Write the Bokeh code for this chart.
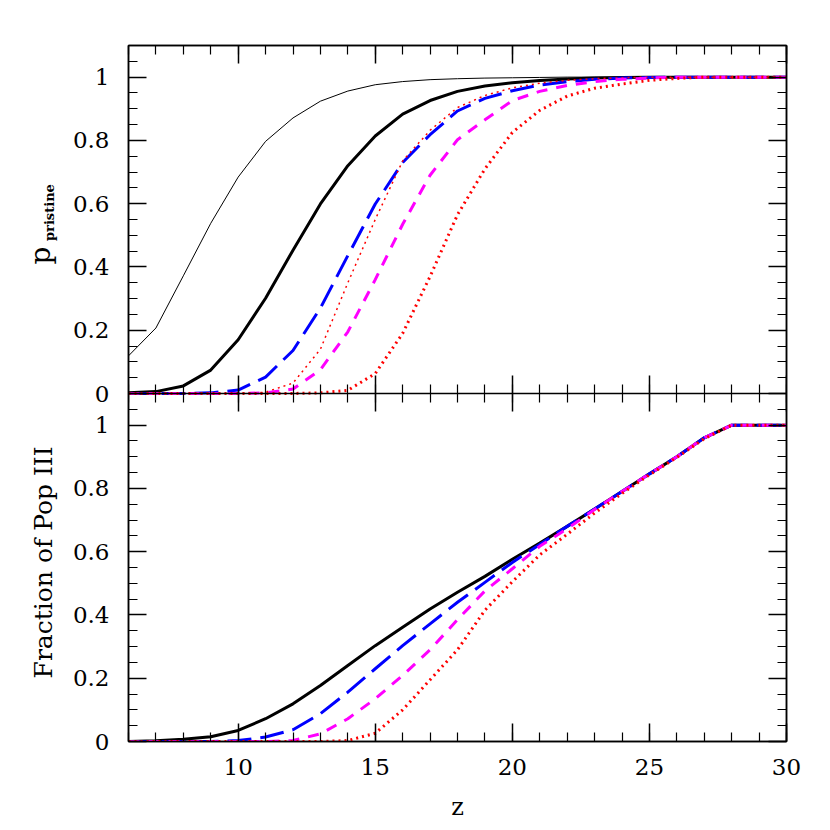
import math
from bokeh.plotting import figure
from bokeh.models import Range1d, LinearAxis, FixedTicker, CustomJSTickFormatter
from bokeh.core.properties import value
from bokeh.layouts import column, row
from bokeh.embed import file_html
from bokeh.resources import INLINE

# ---------------- data ----------------
z = list(range(6, 31))

# top panel: p_pristine
top_thin_black = [0.119, 0.207, 0.372, 0.538, 0.684, 0.797, 0.871, 0.924, 0.956, 0.976,
                  0.986, 0.992, 0.995, 0.997, 0.998, 0.999, 1.0, 1.0, 1.0, 1.0,
                  1.0, 1.0, 1.0, 1.0, 1.0]
top_thick_black = [0.002, 0.006, 0.024, 0.074, 0.170, 0.301, 0.453, 0.599, 0.720, 0.814,
                   0.883, 0.926, 0.955, 0.972, 0.982, 0.989, 0.994, 0.997, 0.999, 1.0,
                   1.0, 1.0, 1.0, 1.0, 1.0]
top_blue = [0.0, 0.0, 0.0, 0.002, 0.011, 0.052, 0.136, 0.270, 0.436, 0.599,
            0.730, 0.818, 0.893, 0.933, 0.957, 0.975, 0.986, 0.993, 0.997, 0.999,
            1.0, 1.0, 1.0, 1.0, 1.0]
top_red_thin = [0.0, 0.0, 0.0, 0.0, 0.0, 0.004, 0.033, 0.140, 0.350, 0.550,
                0.735, 0.832, 0.904, 0.942, 0.966, 0.981, 0.990, 0.995, 0.998, 1.0,
                1.0, 1.0, 1.0, 1.0, 1.0]
top_magenta = [0.0, 0.0, 0.0, 0.0, 0.0, 0.002, 0.014, 0.075, 0.195, 0.360,
               0.535, 0.690, 0.802, 0.865, 0.926, 0.955, 0.974, 0.986, 0.993, 0.997,
               1.0, 1.0, 1.0, 1.0, 1.0]
top_red_thick = [0.0, 0.0, 0.0, 0.0, 0.0, 0.0, 0.0, 0.002, 0.010, 0.063,
                 0.190, 0.370, 0.565, 0.710, 0.825, 0.895, 0.940, 0.965, 0.978, 0.990,
                 0.996, 1.0, 1.0, 1.0, 1.0]

# bottom panel: fraction of Pop III
bot_black = [0.0, 0.002, 0.007, 0.015, 0.035, 0.072, 0.119, 0.177, 0.240, 0.303,
             0.361, 0.419, 0.472, 0.522, 0.576, 0.627, 0.680, 0.735, 0.790, 0.846,
             0.900, 0.960, 1.0, 1.0, 1.0]
bot_blue = [0.0, 0.0, 0.0, 0.0, 0.003, 0.014, 0.037, 0.088, 0.156, 0.230,
            0.303, 0.372, 0.440, 0.503, 0.566, 0.623, 0.680, 0.735, 0.790, 0.846,
            0.900, 0.960, 1.0, 1.0, 1.0]
bot_magenta = [0.0, 0.0, 0.0, 0.0, 0.0, 0.0, 0.003, 0.024, 0.072, 0.135,
               0.209, 0.290, 0.385, 0.476, 0.546, 0.617, 0.673, 0.733, 0.790, 0.846,
               0.900, 0.960, 1.0, 1.0, 1.0]
bot_red = [0.0, 0.0, 0.0, 0.0, 0.0, 0.0, 0.0, 0.0, 0.003, 0.026,
           0.100, 0.195, 0.290, 0.415, 0.505, 0.590, 0.655, 0.722, 0.784, 0.843,
           0.898, 0.957, 1.0, 1.0, 1.0]

# ticks: x axis, and y axis of the two stacked panels (lower panel 0..1.1, upper panel above it)
x_major = [10, 15, 20, 25, 30]
x_minor = list(range(6, 31))
y_major = [0, 0.2, 0.4, 0.6, 0.8, 1.0, 1.1, 1.3, 1.5, 1.7, 1.9, 2.1]
y_major_text = ["0", "0.2", "0.4", "0.6", "0.8", "1", "0", "0.2", "0.4", "0.6", "0.8", "1"]
y_minor = [round(0.05 * i, 2) for i in range(0, 45)]

FONT = "DejaVu Serif"
TICK_FS = "23px"

BORDER_TOP = 45
BORDER_BOTTOM = 46
FIG_H = 787


def make_axis(ticks, minor, labelled, standoff=0, tick_out=0, **kw):
    ax = LinearAxis(ticker=FixedTicker(ticks=ticks, minor_ticks=minor),
                    axis_line_color="black", axis_line_width=1.5,
                    major_tick_in=18, major_tick_out=tick_out,
                    minor_tick_in=9, minor_tick_out=tick_out // 2,
                    major_tick_line_width=1.5, minor_tick_line_width=1.2,
                    major_tick_line_color="black", minor_tick_line_color="black", **kw)
    if labelled:
        ax.major_label_text_font = FONT
        ax.major_label_text_font_size = TICK_FS
        ax.major_label_text_color = "black"
        ax.major_label_standoff = standoff
    else:
        ax.formatter = CustomJSTickFormatter(code="return ''")
        ax.major_label_text_font_size = "0px"
        ax.major_label_standoff = 0
    return ax


# ---------------- main figure (both panels share one frame) ----------------
y_low = Range1d(0, 2.2)        # lower panel values 0..1.1 occupy the lower half
y_up = Range1d(-1.1, 1.1)      # upper panel values 0..1.1 occupy the upper half

p = figure(width=750, height=FIG_H, output_backend="svg", toolbar_location=None,
           x_range=Range1d(6, 30), y_range=y_low,
           x_axis_location=None, y_axis_location=None,
           min_border_left=68, min_border_right=24,
           min_border_top=BORDER_TOP, min_border_bottom=BORDER_BOTTOM)
p.extra_y_ranges = {"top": y_up}
p.grid.visible = False
p.outline_line_color = "black"
p.outline_line_width = 1.5
p.background_fill_color = "white"
p.border_fill_color = "white"

left_ax = make_axis(y_major, y_minor, True, standoff=19)
left_ax.major_label_overrides = dict(zip(y_major, y_major_text))
p.add_layout(left_ax, "left")
p.add_layout(make_axis(y_major, y_minor, False), "right")
p.add_layout(make_axis(x_major, x_minor, False), "above")
p.add_layout(make_axis(x_major, x_minor, True, standoff=17), "below")
# boundary between the two panels: ticks pointing into both panels
p.add_layout(make_axis(x_major, x_minor, False, tick_out=18, fixed_location=1.1), "below")

# upper panel
p.line(z, top_thin_black, y_range_name="top", line_color="black", line_width=1)
p.line(z, top_thick_black, y_range_name="top", line_color="black", line_width=3)
p.line(z, top_blue, y_range_name="top", line_color="#0000ff", line_width=3, line_dash="24 9")
p.line(z, top_red_thin, y_range_name="top", line_color="#ff0000", line_width=1.5, line_dash="2 4")
p.line(z, top_magenta, y_range_name="top", line_color="#ff00ff", line_width=3, line_dash="11 9")
p.line(z, top_red_thick, y_range_name="top", line_color="#ff0000", line_width=3, line_dash="2 4")

# lower panel
p.line(z, bot_black, line_color="black", line_width=3)
p.line(z, bot_blue, line_color="#0000ff", line_width=3, line_dash="24 9")
p.line(z, bot_magenta, line_color="#ff00ff", line_width=3, line_dash="11 9")
p.line(z, bot_red, line_color="#ff0000", line_width=3, line_dash="2 4")


# ---------------- strip on the left for the y titles (same vertical frame as the plot) ----------------
lab = figure(width=60, height=FIG_H, output_backend="svg", toolbar_location=None, title=None,
             x_range=Range1d(0, 60), y_range=y_low,
             x_axis_location=None, y_axis_location=None,
             min_border_left=0, min_border_right=0,
             min_border_top=BORDER_TOP, min_border_bottom=BORDER_BOTTOM)
lab.extra_y_ranges = {"top": y_up}
lab.grid.visible = False
lab.outline_line_color = None
lab.background_fill_color = "white"
lab.border_fill_color = "white"

lab.text(x=[39.5], y=[0.436], y_range_name="top", text=["p"], angle=math.pi / 2,
         text_align="center", text_baseline="alphabetic",
         text_font=value(FONT), text_font_size=value("28px"), text_color="black")
lab.text(x=[48.5], y=[0.482], y_range_name="top", text=["pristine"], angle=math.pi / 2,
         text_align="left", text_baseline="alphabetic",
         text_font=value(FONT), text_font_style="bold",
         text_font_size=value("13px"), text_color="black")
lab.text(x=[43], y=[0.566], text=["Fraction of Pop III"], angle=math.pi / 2,
         text_align="center", text_baseline="alphabetic",
         text_font=value(FONT), text_font_size=value("25px"), text_color="black")

# ---------------- strip below for the x title ----------------
zstrip = figure(width=810, height=35, output_backend="svg", toolbar_location=None, title=None,
                x_range=Range1d(0, 810), y_range=Range1d(0, 35),
                x_axis_location=None, y_axis_location=None,
                min_border_left=0, min_border_right=0, min_border_top=0, min_border_bottom=0)
zstrip.grid.visible = False
zstrip.outline_line_color = None
zstrip.background_fill_color = "white"
zstrip.border_fill_color = "white"
zstrip.text(x=[457], y=[16], text=["z"],
            text_align="center", text_baseline="alphabetic",
            text_font=value(FONT), text_font_size=value("24px"), text_color="black")

layout = column(row(lab, p, spacing=0), zstrip, spacing=0)

with open("out.html", "w") as f:
    f.write(file_html(layout, INLINE))
